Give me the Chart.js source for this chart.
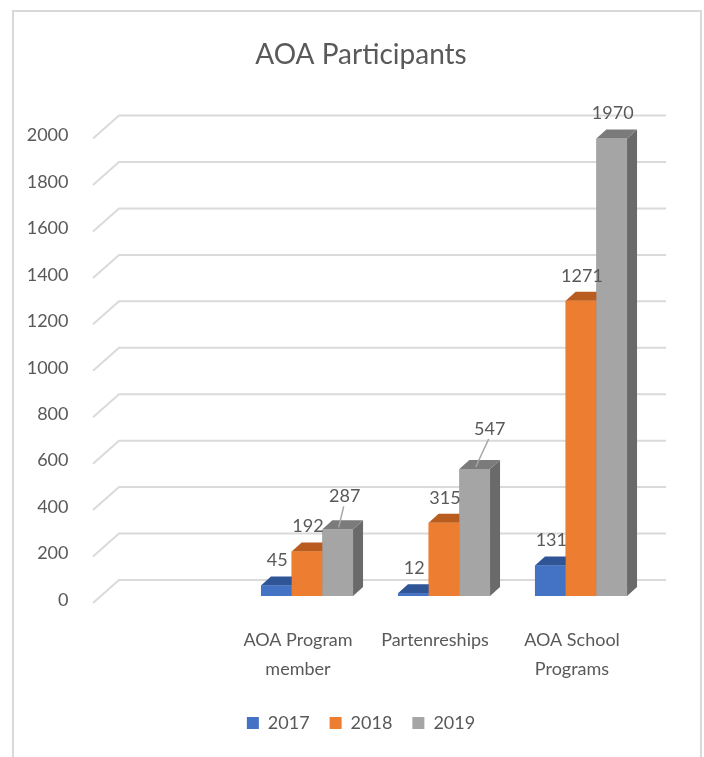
<!DOCTYPE html>
<html>
<head>
<meta charset="utf-8">
<title>AOA Participants</title>
<script src="https://cdn.jsdelivr.net/npm/chart.js@4/dist/chart.umd.min.js"></script>
<style>
  html, body { margin: 0; padding: 0; background: #fff; }
  #frame {
    position: absolute; left: 12px; top: 10px; width: 686px; height: 760px;
    border: 2px solid #d9d9d9; border-bottom: none;
  }
  #chart { position: absolute; left: 0; top: 0; }
</style>
</head>
<body>
<div id="frame"></div>
<canvas id="chart" width="704" height="757"></canvas>
<script>
// data (first category is left empty, like in the sheet)
var categories = ['', ['AOA Program', 'member'], 'Partenreships', ['AOA School', 'Programs']];
var years = ['2017', '2018', '2019'];
var values2017 = [null, 45, 12, 131];
var values2018 = [null, 192, 315, 1271];
var values2019 = [null, 287, 547, 1970];

var frontColors = ['#4472c4', '#ed7d31', '#a5a5a5'];
var topColors = ['#2f5597', '#b85d1f', '#7b7b7b'];
var sideColors = ['#2c4f8f', '#a9551c', '#6a6a6a'];
var textColor = '#595959';
var fontFamily = 'Lato, "Open Sans", sans-serif';

var depthX = 10, depthY = 9;

// nudges for the two labels that Excel pushed up with a leader line
var labelNudge = { '2-1': [6, -8], '2-2': [14, -15] };

function poly(ctx, pts) {
    ctx.beginPath();
    ctx.moveTo(pts[0][0], pts[0][1]);
    for (var i = 1; i < pts.length; i++) ctx.lineTo(pts[i][0], pts[i][1]);
    ctx.closePath();
    ctx.fill();
}

// back wall gridlines with the little slanted floor edge
var wallGrid = {
    id: 'wallGrid',
    beforeDatasetsDraw: function(chart) {
        var ctx = chart.ctx, y = chart.scales.y, area = chart.chartArea;
        ctx.save();
        ctx.strokeStyle = '#dadada';
        ctx.lineWidth = 2;
        y.ticks.forEach(function(t) {
            var py = y.getPixelForValue(t.value);
            ctx.beginPath();
            ctx.moveTo(area.left - 8.5, py + 7);
            ctx.lineTo(area.left + 17.5, py - 16);
            ctx.lineTo(area.right + 16.5, py - 16);
            ctx.stroke();
        });
        ctx.restore();
    }
};

// draw each bar as a box: side, top, then front again
var boxes3d = {
    id: 'boxes3d',
    afterDatasetsDraw: function(chart) {
        var ctx = chart.ctx;
        ctx.save();
        chart.data.labels.forEach(function(_, idx) {
            chart.data.datasets.forEach(function(ds, di) {
                if (ds.data[idx] == null) return;
                var bar = chart.getDatasetMeta(di).data[idx];
                var p = bar.getProps(['x', 'y', 'base', 'width'], true);
                var l = p.x - p.width / 2, r = p.x + p.width / 2;
                ctx.fillStyle = sideColors[di];
                poly(ctx, [[r, p.y], [r + depthX, p.y - depthY], [r + depthX, p.base - depthY], [r, p.base]]);
                ctx.fillStyle = topColors[di];
                poly(ctx, [[l, p.y], [l + depthX, p.y - depthY], [r + depthX, p.y - depthY], [r, p.y]]);
                ctx.fillStyle = frontColors[di];
                ctx.fillRect(l, p.y, p.width, p.base - p.y);
            });
        });
        ctx.restore();
    },
    afterDraw: function(chart) {
        var ctx = chart.ctx;
        ctx.save();
        ctx.font = '18px ' + fontFamily;
        ctx.fillStyle = textColor;
        ctx.textAlign = 'center';
        ctx.textBaseline = 'middle';
        chart.data.datasets.forEach(function(ds, di) {
            chart.getDatasetMeta(di).data.forEach(function(bar, idx) {
                var v = ds.data[idx];
                if (v == null) return;
                var n = labelNudge[di + '-' + idx] || [0, 0];
                var lx = bar.x + 1 + n[0], ly = bar.y - 25 + n[1];
                if (labelNudge[di + '-' + idx]) {
                    ctx.strokeStyle = '#a6a6a6';
                    ctx.lineWidth = 1.5;
                    ctx.beginPath();
                    ctx.moveTo(bar.x + 1, bar.y - 2);
                    ctx.lineTo(lx - 1, ly + 10);
                    ctx.stroke();
                }
                ctx.fillText(v, lx, ly);
            });
        });
        ctx.restore();
    }
};

var datasets = [values2017, values2018, values2019].map(function(vals, i) {
    return {
        label: years[i],
        data: vals,
        backgroundColor: frontColors[i],
        borderWidth: 0,
        categoryPercentage: 0.672,
        barPercentage: 1.0
    };
});

new Chart(document.getElementById('chart'), {
    type: 'bar',
    data: { labels: categories, datasets: datasets },
    options: {
        responsive: false,
        animation: false,
        devicePixelRatio: 1,
        layout: { padding: { left: 26, right: 8, top: 0, bottom: 15 } },
        plugins: {
            title: {
                display: true,
                text: 'AOA Participants',
                color: textColor,
                font: { family: fontFamily, size: 28, weight: 'normal', lineHeight: 1.2 },
                padding: { top: 38, bottom: 60 }
            },
            legend: {
                position: 'bottom',
                labels: {
                    color: textColor,
                    font: { family: fontFamily, size: 18 },
                    boxWidth: 12,
                    boxHeight: 12,
                    padding: 20
                }
            },
            tooltip: { enabled: false }
        },
        scales: {
            x: {
                grid: { display: false },
                border: { display: false },
                ticks: {
                    color: textColor,
                    font: { family: fontFamily, size: 18, lineHeight: 1.6 },
                    padding: 22,
                    labelOffset: -9,
                    maxRotation: 0
                },
                afterFit: function(scale) { scale.height = 98; }
            },
            y: {
                min: 0,
                max: 2000,
                grid: { display: false },
                border: { display: false },
                ticks: {
                    stepSize: 200,
                    color: textColor,
                    font: { family: fontFamily, size: 18 },
                    padding: 25,
                    labelOffset: 4,
                    callback: function(v) { return String(v); }
                },
                afterFit: function(scale) { scale.width = 75.5; }
            },
            // empty right axis, only keeps room for the 3D depth on the right
            yRight: {
                position: 'right',
                min: 0,
                max: 2000,
                grid: { display: false },
                border: { display: false },
                ticks: { display: false },
                afterFit: function(scale) { scale.width = 46.5; }
            }
        }
    },
    plugins: [wallGrid, boxes3d]
});
</script>
</body>
</html>
